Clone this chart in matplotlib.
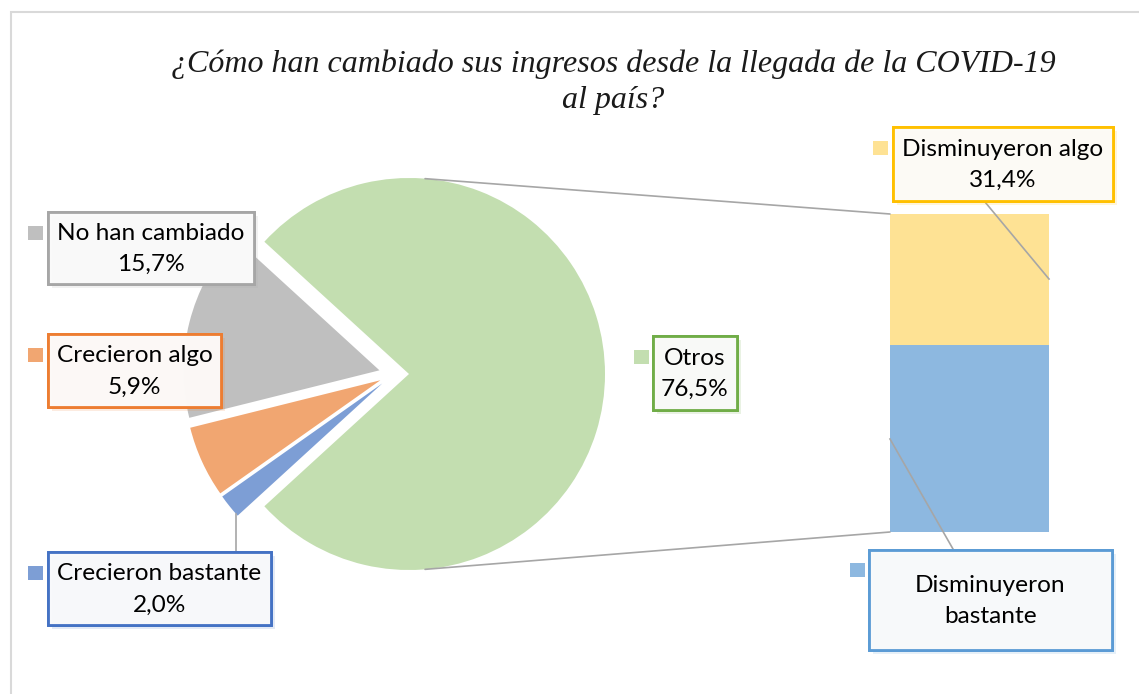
import numpy as np
import matplotlib
matplotlib.use("Agg")
import matplotlib.pyplot as plt
from matplotlib.patches import Rectangle, ConnectionPatch
from matplotlib.lines import Line2D
import matplotlib.patheffects as pe
from matplotlib.colors import to_rgb

# ---------------- data ----------------
title = "¿Cómo han cambiado sus ingresos desde la llegada de la COVID-19\nal país?"
pie_labels = ["Otros", "No han cambiado", "Crecieron algo", "Crecieron bastante"]
pie_values = [76.5, 15.7, 5.9, 2.0]
bar_labels = ["Disminuyeron bastante", "Disminuyeron algo"]
bar_values = [45.1, 31.4]

pie_colors = ["#C3DEB0", "#BFBFBF", "#F1A671", "#7D9ED5"]
pie_edges = ["#70AD47", "#A6A6A6", "#ED7D31", "#4472C4"]
bar_colors = ["#8DB8E0", "#FEE294"]
bar_edges = ["#5B9BD5", "#FFC000"]

W, H = 1139, 694
fig = plt.figure(figsize=(W / 100, H / 100), dpi=100)
fig.patch.set_facecolor("white")

def fx(x):
    return x / W

def fy(y):
    return 1 - y / H

def fmt(v):
    return f"{v:.1f}".replace(".", ",") + "%"

# outer chart frame (partially cropped)
fig.add_artist(Rectangle((fx(11), fy(H + 20)), 2, fy(12) - fy(H + 20),
                         transform=fig.transFigure, fill=False,
                         ec="#D9D9D9", lw=1.5))

# title
fig.text(fx(613), fy(82), title, ha="center", va="center",
         family="Liberation Serif", style="italic", fontsize=23,
         linespacing=1.3, color="#1a1a1a")

# ---------------- pie ----------------
R = 196
cx, cy = 394, 374
ax = fig.add_axes([fx(cx - 250), fy(cy + 250), 500 / W, 500 / H])
total = sum(pie_values)
ax.pie(pie_values, colors=pie_colors, radius=R, explode=[15] * len(pie_values),
       startangle=-pie_values[0] / total * 180, counterclock=True,
       wedgeprops=dict(linewidth=0))
ax.set_xlim(-250, 250)
ax.set_ylim(-250, 250)
ax.axis("off")

# ---------------- bar ----------------
bax = fig.add_axes([fx(890), fy(532), 159 / W, 318 / H])
bottom = 0
for v, c in zip(bar_values, bar_colors):
    bax.bar(0, v, width=1, bottom=bottom, color=c, linewidth=0)
    bottom += v
bax.set_xlim(-0.5, 0.5)
bax.set_ylim(0, sum(bar_values))
bax.axis("off")

# connector lines between green slice and bar
ang = np.deg2rad(85.3)
for sgn, yb in [(1, sum(bar_values)), (-1, 0)]:
    con = ConnectionPatch(xyA=(15 + R * np.cos(ang), sgn * R * np.sin(ang)), coordsA=ax.transData,
                          xyB=(-0.5, yb), coordsB=bax.transData,
                          color="#A6A6A6", lw=1.2)
    fig.add_artist(con)

# leader lines
def leader(x1, y1, x2, y2):
    fig.add_artist(Line2D([fx(x1), fx(x2)], [fy(y1), fy(y2)],
                          transform=fig.transFigure, color="#A6A6A6", lw=1.2, zorder=2.5))

leader(985, 202, 1049, 279)
leader(890, 439, 953, 549)
leader(236, 514, 236, 551)

# ---------------- labels ----------------
def label(box, text, edge, sq_x, sq_y, sq_col):
    x0, y0, x1, y1 = box
    r, g, b = to_rgb(edge)
    fc = (0.99 - 0.025 * (1 - r), 0.99 - 0.025 * (1 - g), 0.99 - 0.025 * (1 - b), 0.88)
    rect = Rectangle((fx(x0), fy(y1)), (x1 - x0) / W, (y1 - y0) / H,
                     transform=fig.transFigure, fc=fc, ec=edge, lw=2, zorder=3.5)
    rect.set_path_effects([
        pe.withSimplePatchShadow(offset=(3, -3), shadow_rgbFace=edge, alpha=0.15),
        pe.Normal()])
    fig.add_artist(rect)
    fig.text(fx((x0 + x1) / 2), fy((y0 + y1) / 2 + 1), text, ha="center", va="center",
             family="Lato", fontsize=17.6, linespacing=1.6, color="black", zorder=4)
    fig.add_artist(Rectangle((fx(sq_x), fy(sq_y + 14)), 15 / W, 14 / H,
                             transform=fig.transFigure, color=sq_col, lw=0))

label((48, 212, 254, 284), pie_labels[1] + "\n" + fmt(pie_values[1]), pie_edges[1], 28, 226, pie_colors[1])
label((48, 334, 221, 407), pie_labels[2] + "\n" + fmt(pie_values[2]), pie_edges[2], 28, 348, pie_colors[2])
label((48, 552, 271, 625), pie_labels[3] + "\n" + fmt(pie_values[3]), pie_edges[3], 28, 566, pie_colors[3])
label((653, 336, 737, 410), pie_labels[0] + "\n" + fmt(pie_values[0]), pie_edges[0], 634, 350, pie_colors[0])
label((893, 127, 1113, 201), bar_labels[1] + "\n" + fmt(bar_values[1]), bar_edges[1], 873, 141, bar_colors[1])
label((869, 550, 1112, 650), "Disminuyeron\nbastante", bar_edges[0], 850, 563, bar_colors[0])

fig.savefig("out.png", dpi=100)
